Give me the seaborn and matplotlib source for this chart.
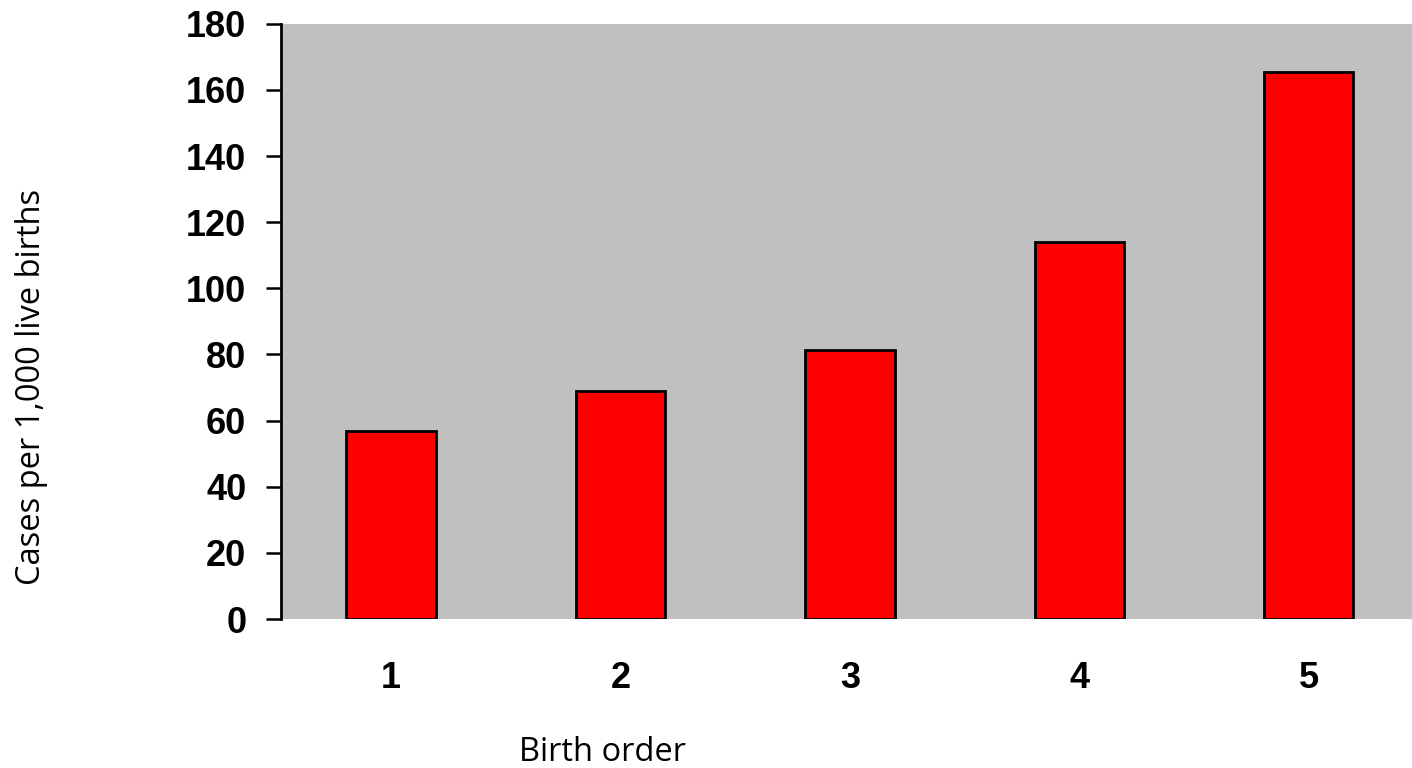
import matplotlib
matplotlib.use("Agg")
import matplotlib.pyplot as plt
import seaborn as sns
import pandas as pd

birth_order = ["1", "2", "3", "4", "5"]
cases = [57, 69, 81.5, 114, 165.5]
y_ticks = [0, 20, 40, 60, 80, 100, 120, 140, 160, 180]

sns.set_style("white")
plt.rcParams['font.family'] = ['Liberation Sans', 'DejaVu Sans']
plt.rcParams['text.color'] = 'black'
plt.rcParams['xtick.color'] = 'black'
plt.rcParams['ytick.color'] = 'black'

df = pd.DataFrame({"order": birth_order, "cases": cases})

fig = plt.figure(figsize=(14.12, 7.68), dpi=100)
ax = fig.add_axes([0.199, 0.194, 0.801, 0.775])
sns.barplot(data=df, x="order", y="cases", color="#ff0000", width=0.39,
            edgecolor="black", linewidth=2.0, saturation=1, ax=ax)
ax.set_facecolor("#c0c0c0")
ax.set_ylim(0, 180)
ax.set_xlim(-0.48, 4.45)
ax.set_yticks(y_ticks)
ax.set_yticklabels([str(t) for t in y_ticks])
for s in ["top", "right", "bottom"]:
    ax.spines[s].set_visible(False)
ax.spines["left"].set_color("black")
ax.spines["left"].set_linewidth(2.0)
ax.tick_params(axis="y", direction="out", length=11, width=1.8, pad=14,
               labelsize=26, left=True, color="black", labelcolor="black")
ax.tick_params(axis="x", length=0, pad=30, labelsize=26, labelcolor="black")
for lab in ax.get_xticklabels() + ax.get_yticklabels():
    lab.set_fontweight("bold")
ax.set_xlabel("")
ax.set_ylabel("")

fig.text(0.022, 0.496, "Cases per 1,000 live births", rotation=90, color="black",
         ha="center", va="center", fontsize=23.5, family=["Open Sans", "DejaVu Sans"])
fig.text(0.427, 0.02, "Birth order", ha="center", va="center", color="black",
         fontsize=23.5, family=["Open Sans", "DejaVu Sans"])

fig.savefig("out.png", dpi=100)
